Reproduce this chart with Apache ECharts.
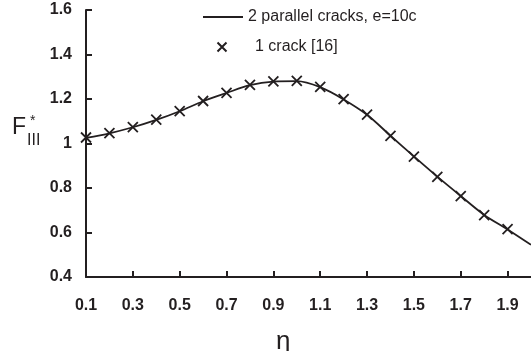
<!DOCTYPE html>
<html>
<head>
<meta charset="utf-8">
<script src="https://cdn.jsdelivr.net/npm/echarts@6/dist/echarts.min.js"></script>
<style>
  html, body { margin: 0; padding: 0; background: #fff; }
  #chart { width: 531px; height: 351px; }
</style>
</head>
<body>
<div id="chart"></div>
<script>
// eta values of the markers
const etaPoints = [0.1, 0.2, 0.3, 0.4, 0.5, 0.6, 0.7, 0.8, 0.9, 1.0, 1.1, 1.2, 1.3, 1.4, 1.5, 1.6, 1.7, 1.8, 1.9]
// 1 crack [16]
const oneCrack = [1.027, 1.047, 1.074, 1.107, 1.146, 1.191, 1.228, 1.263, 1.279, 1.281, 1.254, 1.199, 1.130, 1.034, 0.941, 0.850, 0.763, 0.678, 0.615]
// 2 parallel cracks, e=10c (line runs on to eta = 2)
const etaLine = [0.1, 0.2, 0.3, 0.4, 0.5, 0.6, 0.7, 0.8, 0.9, 1.0, 1.1, 1.2, 1.3, 1.4, 1.5, 1.6, 1.7, 1.8, 1.9, 2.0]
const twoCracks = [1.025, 1.046, 1.073, 1.106, 1.145, 1.190, 1.227, 1.262, 1.278, 1.280, 1.253, 1.198, 1.129, 1.035, 0.942, 0.851, 0.764, 0.679, 0.614, 0.545]
// tick labels
const xLabels = [0.1, 0.3, 0.5, 0.7, 0.9, 1.1, 1.3, 1.5, 1.7, 1.9]
const xTicks = [0.3, 0.5, 0.7, 0.9, 1.1, 1.3, 1.5, 1.7, 1.9]

const font = 'Liberation Sans, Arial, sans-serif'
const ink = '#231f20'
const crossPath = 'path://M0,0L10,10M10,0L0,10'

const chart = echarts.init(document.getElementById('chart'))

chart.setOption({
  animation: false,
  backgroundColor: '#fff',
  grid: {
    left: 86,
    right: -3,
    top: 10,
    bottom: 74
  },
  legend: [{
    left: 198,
    top: 4,
    itemWidth: 40,
    itemHeight: 2,
    textStyle: { fontFamily: font, fontSize: 16, color: ink },
    data: [{ name: '2 parallel cracks, e=10c', icon: 'rect' }]
  }, {
    left: 210,
    top: 34,
    itemWidth: 56,
    itemHeight: 9,
    textStyle: { fontFamily: font, fontSize: 16, color: ink },
    data: [{ name: '1 crack [16]', icon: crossPath }]
  }],
  xAxis: {
    type: 'value',
    min: 0.1,
    max: 2.0,
    splitLine: { show: false },
    axisLine: { lineStyle: { color: ink, width: 2 } },
    axisTick: {
      inside: true,
      length: 6,
      customValues: xTicks,
      lineStyle: { color: ink, width: 2 }
    },
    axisLabel: {
      customValues: xLabels,
      margin: 21,
      fontFamily: font,
      fontSize: 16,
      fontWeight: 'bold',
      color: ink
    }
  },
  yAxis: {
    type: 'value',
    min: 0.4,
    max: 1.6,
    interval: 0.2,
    splitLine: { show: false },
    axisLine: { show: true, lineStyle: { color: ink, width: 2 } },
    axisTick: {
      show: true,
      inside: true,
      length: 6,
      lineStyle: { color: ink, width: 2 }
    },
    axisLabel: {
      margin: 14,
      fontFamily: font,
      fontSize: 16,
      fontWeight: 'bold',
      color: ink
    }
  },
  // axis titles
  graphic: [
    { type: 'text', left: 12, top: 116, style: { text: 'F', fontFamily: font, fontSize: 23, fill: ink } },
    { type: 'text', left: 30, top: 114, style: { text: '*', fontFamily: font, fontSize: 14, fill: ink } },
    { type: 'text', left: 27, top: 133, style: { text: 'III', fontFamily: font, fontSize: 16, fill: ink } },
    { type: 'text', left: 276, top: 329, style: { text: 'η', fontFamily: font, fontSize: 26, fill: ink } }
  ],
  series: [
    {
      name: '2 parallel cracks, e=10c',
      type: 'line',
      smooth: 0.3,
      symbol: 'none',
      data: etaLine.map((x, i) => [x, twoCracks[i]]),
      lineStyle: { color: ink, width: 1.8 },
      itemStyle: { color: ink }
    },
    {
      name: '1 crack [16]',
      type: 'scatter',
      symbol: crossPath,
      symbolSize: 10,
      data: etaPoints.map((x, i) => [x, oneCrack[i]]),
      itemStyle: { color: 'none', borderColor: ink, borderWidth: 1.8, opacity: 1 }
    }
  ]
})
</script>
</body>
</html>
